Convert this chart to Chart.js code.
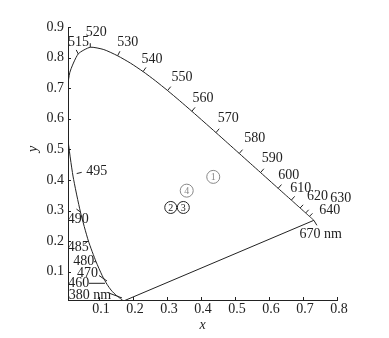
<!DOCTYPE html>
<html><head><meta charset="utf-8">
<script src="https://cdn.jsdelivr.net/npm/chart.js@4/dist/chart.umd.min.js"></script>
<style>html,body{margin:0;padding:0;background:#fff}#wrap{width:389px;height:338px;position:relative}</style>
</head><body><div id="wrap"><canvas id="c" width="389" height="338"></canvas></div>
<script>
// CIE 1931 spectral locus (wavelength, x, y)
const locusNm = [380,385,390,395,400,405,410,415,420,425,430,435,440,445,450,455,460,465,470,475,480,485,490,495,500,505,510,515,520,525,530,535,540,545,550,555,560,565,570,575,580,585,590,595,600,605,610,615,620,625,630,635,640,645,650,655,660,665,670];
const locusX = [0.1741,0.1740,0.1738,0.1736,0.1733,0.1730,0.1726,0.1721,0.1714,0.1703,0.1689,0.1669,0.1644,0.1611,0.1566,0.1510,0.1440,0.1355,0.1241,0.1096,0.0913,0.0687,0.0454,0.0235,0.0082,0.0039,0.0139,0.0389,0.0743,0.1142,0.1547,0.1929,0.2296,0.2658,0.3016,0.3373,0.3731,0.4087,0.4441,0.4788,0.5125,0.5448,0.5752,0.6029,0.6270,0.6482,0.6658,0.6801,0.6915,0.7006,0.7079,0.7140,0.7190,0.7230,0.7260,0.7283,0.7300,0.7311,0.7320];
const locusY = [0.0050,0.0050,0.0049,0.0049,0.0048,0.0048,0.0048,0.0048,0.0051,0.0058,0.0069,0.0086,0.0109,0.0138,0.0177,0.0227,0.0297,0.0399,0.0578,0.0868,0.1327,0.2007,0.2950,0.4127,0.5384,0.6548,0.7502,0.8120,0.8338,0.8262,0.8059,0.7816,0.7543,0.7243,0.6923,0.6589,0.6245,0.5896,0.5547,0.5202,0.4866,0.4544,0.4242,0.3965,0.3725,0.3514,0.3340,0.3197,0.3083,0.2993,0.2920,0.2859,0.2809,0.2770,0.2740,0.2717,0.2700,0.2689,0.2680];

// labelled wavelengths
const markNm = [380,460,470,480,485,490,495,515,520,530,540,550,560,570,580,590,600,610,620,630,640,670];
const markText = ['380 nm','460','470','480','485','490','495','515','520','530','540','550','560','570','580','590','600','610','620','630','640','670 nm'];

// samples
const sampleText = ['1','2','3','4'];
const sampleX = [0.436,0.311,0.348,0.358];
const sampleY = [0.410,0.310,0.310,0.365];

// axes
const xTicks = [0.1,0.2,0.3,0.4,0.5,0.6,0.7,0.8];
const xTickLabels = ['0.1','0.2','0.3','0.4','0.5','0.6','0.7','0.8'];
const yTicks = [0.1,0.2,0.3,0.4,0.5,0.6,0.7,0.8,0.9];
const yTickLabels = ['0.1','0.2','0.3','0.4','0.5','0.6','0.7','0.8','0.9'];

// ---------- styling / placement (pixel offsets relative to locus points) ----------
const markStyle = {
  380:{label:[-34.2,-5.1],tick:[-2.2,-2.8,-14.2,-7.3]},
  460:{label:[-35.2,-9.9],tick:[-9,-9.9,-25,-9.9]},
  470:{label:[-19.7,-11.3],tick:[-0.2,-3.6,-8.2,-9.1]},
  480:{label:[-12.2,0],tick:[0,0,-2,0]},
  485:{label:[-10.1,6.4],tick:[0,0,-4,3]},
  490:{label:[-2.1,7.3],tick:[0,0,-4,-3]},
  495:{label:[23.7,-4.3],tick:[3.7,-2.5,8.7,-3.7]},
  515:{label:[0.3,-11.1],tick:[0,0,-2,-4]},
  520:{label:[6,-14.5],tick:[0,0,0,-4]},
  530:{label:[10.1,-13],tick:[0,0,2.3,-4.5]},
  540:{label:[8.9,-12.5],tick:[0,0,2.9,-4.1]},
  550:{label:[14.5,-13.2],tick:[0,0,3.2,-3.9]},
  560:{label:[11.1,-12.9],tick:[0,0,3.2,-3.9]},
  570:{label:[12.3,-14.6],tick:[0,0,3.2,-3.9]},
  580:{label:[15.4,-15.1],tick:[0,0,3.3,-3.8]},
  590:{label:[11.6,-14.2],tick:[0,0,3.3,-3.8]},
  600:{label:[10.6,-13.3],tick:[0,0,3.3,-3.8]},
  610:{label:[9.4,-11.8],tick:[0,0,3.3,-3.8]},
  620:{label:[17.4,-12],tick:[0,0,3,-3.2]},
  630:{label:[35.1,-14.3],tick:[0,0,3,-3.2]},
  640:{label:[20.2,-6.3],tick:[0,0,3,-3]},
  670:{label:[6.9,14],tick:[0,0,3,5]}
};
const sampleColor = ['#888','#222','#222','#888'];
const sampleRadius = [6.5,6,6,6.5];
const INK = '#222';
const SERIF = '"Liberation Serif", "Times New Roman", serif';

const annot = {
  id:'annot',
  afterDatasetsDraw(chart){
    const {ctx, chartArea:ca, scales:{x, y}} = chart;
    ctx.save();
    ctx.strokeStyle = INK; ctx.lineWidth = 1;
    ctx.beginPath();
    xTicks.forEach(v=>{const px=Math.round(x.getPixelForValue(v))+0.5; ctx.moveTo(px,ca.bottom); ctx.lineTo(px,ca.bottom-3);});
    yTicks.forEach(v=>{const py=Math.round(y.getPixelForValue(v))+0.5; ctx.moveTo(ca.left,py); ctx.lineTo(ca.left+3,py);});
    ctx.stroke();
    ctx.font = '14px ' + SERIF;
    ctx.fillStyle = INK;
    ctx.textAlign = 'center'; ctx.textBaseline = 'middle';
    markNm.forEach((nm,i)=>{
      const k = locusNm.indexOf(nm);
      const px = x.getPixelForValue(locusX[k]), py = y.getPixelForValue(locusY[k]);
      const st = markStyle[nm];
      ctx.beginPath(); ctx.moveTo(px+st.tick[0],py+st.tick[1]); ctx.lineTo(px+st.tick[2],py+st.tick[3]); ctx.stroke();
      ctx.fillText(markText[i], px+st.label[0], py+st.label[1]);
    });
    ctx.font = '10px ' + SERIF;
    sampleText.forEach((t,i)=>{
      ctx.fillStyle = sampleColor[i];
      ctx.fillText(t, x.getPixelForValue(sampleX[i]), y.getPixelForValue(sampleY[i])+0.5);
    });
    ctx.fillStyle = INK;
    ctx.font = 'italic 14px ' + SERIF;
    ctx.translate(33,149); ctx.rotate(-Math.PI/2);
    ctx.fillText('y',0,0);
    ctx.restore();
  }
};

const locusPts = locusX.map((v,i)=>({x:v,y:locusY[i]}));
const last = locusX.length-1;

new Chart(document.getElementById('c'), {
  type:'scatter',
  data:{datasets:[
    {data:locusPts, showLine:true, pointRadius:0, borderColor:INK, borderWidth:1, tension:0.2, fill:false},
    {data:[{x:locusX[last],y:locusY[last]},{x:locusX[0],y:locusY[0]}], showLine:true, pointRadius:0, borderColor:INK, borderWidth:1, fill:false},
    {data:sampleX.map((v,i)=>({x:v,y:sampleY[i]})), showLine:false, pointRadius:sampleRadius, pointBorderColor:sampleColor, pointBackgroundColor:'rgba(0,0,0,0)', pointBorderWidth:1, clip:false}
  ]},
  options:{
    responsive:false, animation:false, events:[],
    layout:{padding:{top:27,right:52,bottom:0,left:0}},
    plugins:{legend:{display:false}, tooltip:{enabled:false}},
    scales:{
      x:{type:'linear', min:0.0088, max:0.8,
        afterBuildTicks:s=>{s.ticks = xTicks.map(v=>({value:v}));},
        afterFit:s=>{s.height = 38;},
        ticks:{callback:(v,i)=>xTickLabels[i], font:{family:SERIF,size:14}, color:INK, padding:1, maxRotation:0, autoSkip:false, labelOffset:2},
        grid:{display:false, drawTicks:false, tickLength:0}, border:{display:true,color:INK,width:1},
        title:{display:true, text:'x', font:{family:SERIF,size:14,style:'italic'}, color:INK, padding:{top:0,bottom:4}}
      },
      y:{type:'linear', min:0.0075, max:0.9,
        afterBuildTicks:s=>{s.ticks = yTicks.map(v=>({value:v}));},
        afterFit:s=>{s.width = 68;},
        ticks:{callback:(v,i)=>yTickLabels[i], font:{family:SERIF,size:14}, color:INK, padding:4, autoSkip:false},
        grid:{display:false, drawTicks:false, tickLength:0}, border:{display:true,color:INK,width:1}
      }
    }
  },
  plugins:[annot]
});
</script></body></html>
